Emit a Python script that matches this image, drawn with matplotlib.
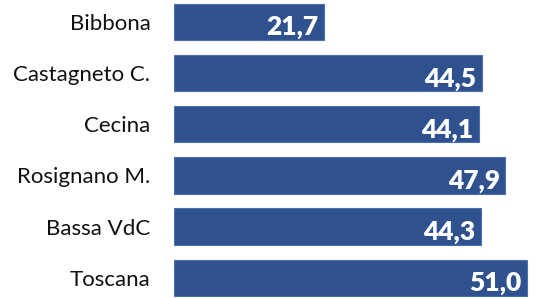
import matplotlib
matplotlib.use("Agg")
import matplotlib.pyplot as plt

# data
places = ["Bibbona", "Castagneto C.", "Cecina", "Rosignano M.", "Bassa VdC", "Toscana"]
values = [21.7, 44.5, 44.1, 47.9, 44.3, 51.0]

bar_color = "#2F528F"

plt.rcParams["font.family"] = ["Lato", "DejaVu Sans"]

fig = plt.figure(figsize=(5.58, 2.98), dpi=100)
ax = fig.add_axes([174 / 558, 0, 384 / 558, 1])

pos = list(range(len(places)))
ax.barh(pos, values, height=0.71, color=bar_color, edgecolor="#4A6FB5", linewidth=0.8)

ax.set_xlim(0, 384 / 6.92)
ax.set_ylim(5.395, -0.426)

ax.set_yticks(pos)
ax.set_yticklabels(places, fontsize=16, color="#111111")
ax.tick_params(axis="y", length=0, pad=17)
ax.set_xticks([])
for s in ax.spines.values():
    s.set_visible(False)

# value labels inside the bar end
for i, v in zip(pos, values):
    ax.text(v - 0.8, i + 0.26, f"{v:.1f}".replace(".", ","), ha="right", va="baseline",
            color="white", fontsize=19, fontweight="heavy")

fig.savefig("out.png", dpi=100)
